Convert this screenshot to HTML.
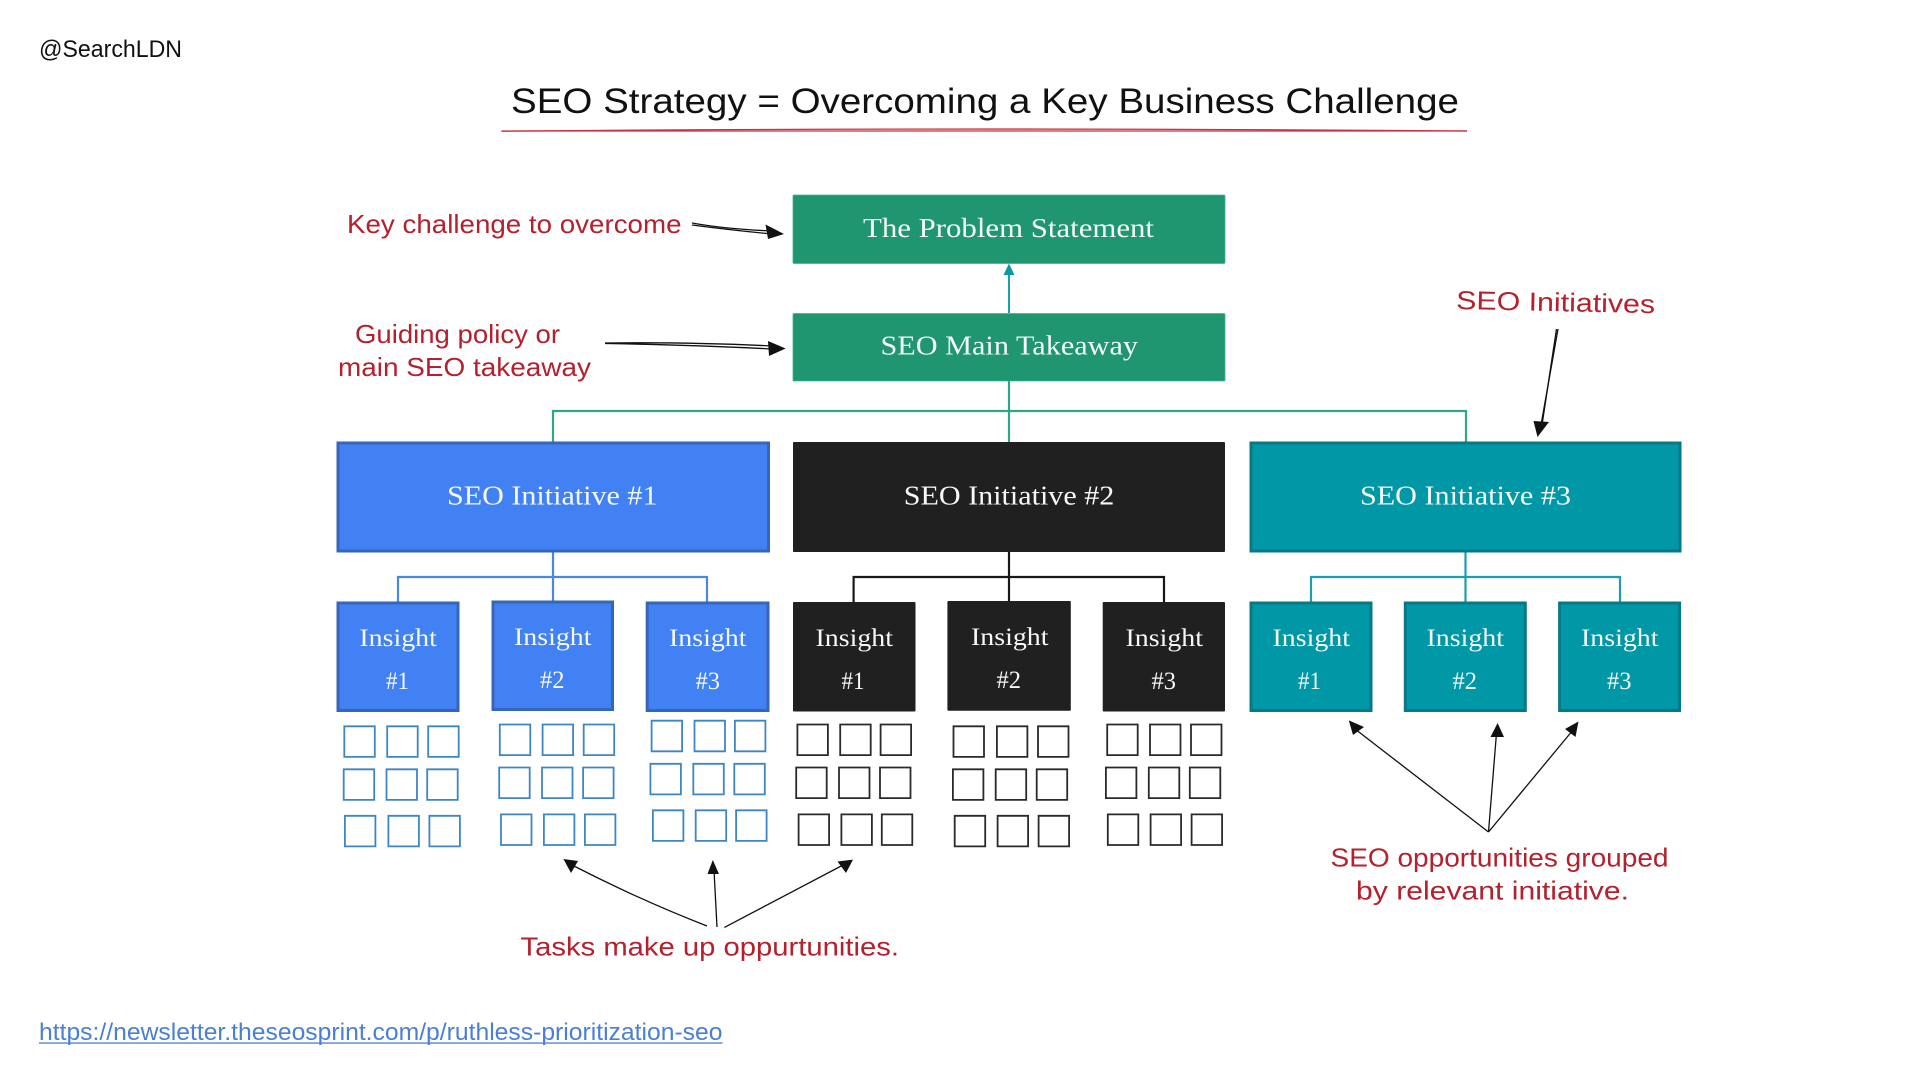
<!DOCTYPE html>
<html lang="en">
<head>
<meta charset="utf-8">
<title>SEO Strategy</title>
<style>
html,body{margin:0;padding:0;background:#fff;width:1920px;height:1080px;overflow:hidden}
svg{display:block}
.s{font-family:"Liberation Serif",serif;fill:#f4f8f6;font-size:27px}
.i{font-family:"Liberation Serif",serif;fill:#f4f8f6;font-size:25px}
.h{font-family:"Liberation Sans",sans-serif;fill:#b5202c;font-size:26px}
.n{font-family:"Liberation Sans",sans-serif;font-size:24px}
</style>
</head>
<body>
<svg width="1920" height="1080" viewBox="0 0 1920 1080" xmlns="http://www.w3.org/2000/svg">
<rect width="1920" height="1080" fill="#fff"/>

<text class="n" x="39" y="57" fill="#111" textLength="143" lengthAdjust="spacingAndGlyphs">@SearchLDN</text>
<text x="511" y="113" font-family="'Liberation Sans',sans-serif" font-size="35" fill="#111" textLength="948" lengthAdjust="spacingAndGlyphs">SEO Strategy = Overcoming a Key Business Challenge</text>
<path d="M501.5 131.2Q980 127 1467 131" fill="none" stroke="#c8323c" stroke-width="1.3"/>
<path d="M501.5 131Q980 130.5 1467 131" fill="none" stroke="#c8323c" stroke-width="1.3"/>

<!-- connectors -->
<path d="M553 442V411H1466V442M1009 381V442" fill="none" stroke="#2fa58a" stroke-width="2.2"/>
<path d="M1009 313V272" fill="none" stroke="#1b9fb0" stroke-width="2"/>
<path d="M1009 263.5L1003.5 275H1014.5Z" fill="#0f97a8"/>
<path d="M398 602V577H707V602M553 552V602" fill="none" stroke="#4a88e0" stroke-width="2.2"/>
<path d="M853.6 602V577H1164V602M1009 552V602" fill="none" stroke="#181818" stroke-width="2.2"/>
<path d="M1311 602V577H1620V602M1465.5 552V602" fill="none" stroke="#1b9fb0" stroke-width="2.2"/>

<!-- top boxes -->
<rect x="793" y="195" width="432" height="68.5" rx="1" fill="#1f966f" stroke="#3cb49a" stroke-width=".8"/>
<rect x="793" y="313.5" width="432" height="67.5" rx="1" fill="#1f966f" stroke="#3cb49a" stroke-width=".8"/>
<text class="s" x="863" y="237" textLength="291" lengthAdjust="spacingAndGlyphs">The Problem Statement</text>
<text class="s" x="880.5" y="354.5" textLength="257.5" lengthAdjust="spacingAndGlyphs">SEO Main Takeaway</text>

<!-- initiatives -->
<rect x="338" y="443" width="430.5" height="108" fill="#4281f3" stroke="#3666b8" stroke-width="3"/>
<rect x="793" y="442" width="432" height="110" rx="1" fill="#202020"/>
<rect x="1251" y="443" width="429" height="108" fill="#0097a7" stroke="#06788a" stroke-width="3"/>
<text class="s" x="447" y="504.5" textLength="210.5" lengthAdjust="spacingAndGlyphs">SEO Initiative #1</text>
<text class="s" x="903.8" y="504.5" textLength="210.5" lengthAdjust="spacingAndGlyphs">SEO Initiative #2</text>
<text class="s" x="1360" y="504.5" textLength="211" lengthAdjust="spacingAndGlyphs">SEO Initiative #3</text>

<!-- insights -->
<g fill="#4281f3" stroke="#3666b8" stroke-width="3">
<rect x="338" y="603" width="120" height="107.5"/>
<rect x="493" y="602" width="119.5" height="107.5"/>
<rect x="647.2" y="603" width="120.8" height="107.5"/>
</g>
<g fill="#202020">
<rect x="793" y="602" width="122.5" height="109.5" rx="1"/>
<rect x="947.4" y="601" width="123.4" height="109.8" rx="1"/>
<rect x="1102.7" y="602" width="122.3" height="109.5" rx="1"/>
</g>
<g fill="#0097a7" stroke="#06788a" stroke-width="3">
<rect x="1251" y="603" width="120" height="107.5"/>
<rect x="1405.3" y="603" width="120" height="107.5"/>
<rect x="1559.6" y="603" width="120" height="107.5"/>
</g>

<g class="i">
<text class="i" x="359.4" y="646" textLength="77.5" lengthAdjust="spacingAndGlyphs">Insight</text>
<text class="i" x="386" y="689" textLength="23" lengthAdjust="spacingAndGlyphs">#1</text>
<text class="i" x="514" y="644.8" textLength="77.5" lengthAdjust="spacingAndGlyphs">Insight</text>
<text class="i" x="540" y="687.8" textLength="24.5" lengthAdjust="spacingAndGlyphs">#2</text>
<text class="i" x="669" y="646" textLength="77.5" lengthAdjust="spacingAndGlyphs">Insight</text>
<text class="i" x="695.5" y="689" textLength="24.5" lengthAdjust="spacingAndGlyphs">#3</text>
<text class="i" x="815.5" y="646" textLength="77.5" lengthAdjust="spacingAndGlyphs">Insight</text>
<text class="i" x="841.5" y="689" textLength="23" lengthAdjust="spacingAndGlyphs">#1</text>
<text class="i" x="971" y="644.8" textLength="77.5" lengthAdjust="spacingAndGlyphs">Insight</text>
<text class="i" x="996.5" y="687.8" textLength="24.5" lengthAdjust="spacingAndGlyphs">#2</text>
<text class="i" x="1125.5" y="646" textLength="77.5" lengthAdjust="spacingAndGlyphs">Insight</text>
<text class="i" x="1151.5" y="689" textLength="24.5" lengthAdjust="spacingAndGlyphs">#3</text>
<text class="i" x="1272.5" y="646" textLength="77.5" lengthAdjust="spacingAndGlyphs">Insight</text>
<text class="i" x="1298" y="689" textLength="23" lengthAdjust="spacingAndGlyphs">#1</text>
<text class="i" x="1426.5" y="646" textLength="77.5" lengthAdjust="spacingAndGlyphs">Insight</text>
<text class="i" x="1452.5" y="689" textLength="24.5" lengthAdjust="spacingAndGlyphs">#2</text>
<text class="i" x="1581" y="646" textLength="77.5" lengthAdjust="spacingAndGlyphs">Insight</text>
<text class="i" x="1607" y="689" textLength="24.5" lengthAdjust="spacingAndGlyphs">#3</text>
</g>

<!-- task squares -->
<path fill="none" stroke="#3d85c6" stroke-width="1.8" d="
M344.3 726.3h30.5v30.6h-30.5zM387.2 726.3h30.5v30.6h-30.5zM428.2 726.3h30.5v30.6h-30.5z
M343.7 769.3h30.5v30.6h-30.5zM386.5 769.3h30.5v30.6h-30.5zM427.2 769.3h30.5v30.6h-30.5z
M344.9 815.8h30.5v30.6h-30.5zM388.4 815.8h30.5v30.6h-30.5zM429.4 815.8h30.5v30.6h-30.5z
M499.8 724.5h30.5v30.6h-30.5zM542.6 724.5h30.5v30.6h-30.5zM583.7 724.5h30.5v30.6h-30.5z
M499.2 767.5h30.5v30.6h-30.5zM542 767.5h30.5v30.6h-30.5zM583.1 767.5h30.5v30.6h-30.5z
M501 814.4h30.5v30.6h-30.5zM543.9 814.4h30.5v30.6h-30.5zM584.9 814.4h30.5v30.6h-30.5z
M651.6 720.7h30.5v30.6h-30.5zM694.5 720.7h30.5v30.6h-30.5zM734.9 720.7h30.5v30.6h-30.5z
M650.4 763.8h30.5v30.6h-30.5zM693.3 763.8h30.5v30.6h-30.5zM734.3 763.8h30.5v30.6h-30.5z
M652.9 810.3h30.5v30.6h-30.5zM695.7 810.3h30.5v30.6h-30.5zM736.1 810.3h30.5v30.6h-30.5z"/>
<path fill="none" stroke="#2a2a2a" stroke-width="1.8" d="
M797.4 724.5h30.5v30.6h-30.5zM840.2 724.5h30.5v30.6h-30.5zM880.6 724.5h30.5v30.6h-30.5z
M796.2 767.5h30.5v30.6h-30.5zM839 767.5h30.5v30.6h-30.5zM880 767.5h30.5v30.6h-30.5z
M798.6 814.4h30.5v30.6h-30.5zM841.4 814.4h30.5v30.6h-30.5zM881.8 814.4h30.5v30.6h-30.5z
M953.5 726.3h30.5v30.6h-30.5zM996.9 726.3h30.5v30.6h-30.5zM1038 726.3h30.5v30.6h-30.5z
M952.9 769.3h30.5v30.6h-30.5zM995.7 769.3h30.5v30.6h-30.5zM1036.7 769.3h30.5v30.6h-30.5z
M954.7 815.8h30.5v30.6h-30.5zM997.6 815.8h30.5v30.6h-30.5zM1038.6 815.8h30.5v30.6h-30.5z
M1107.2 724.5h30.5v30.6h-30.5zM1150 724.5h30.5v30.6h-30.5zM1191 724.5h30.5v30.6h-30.5z
M1105.9 767.5h30.5v30.6h-30.5zM1148.8 767.5h30.5v30.6h-30.5zM1189.8 767.5h30.5v30.6h-30.5z
M1107.8 814.4h30.5v30.6h-30.5zM1150.6 814.4h30.5v30.6h-30.5zM1191.6 814.4h30.5v30.6h-30.5z"/>

<!-- sketch arrows -->
<g fill="none" stroke="#111" stroke-width="1.3">
<path d="M692 223Q725 229 772 231"/>
<path d="M692 225Q730 230 772 234"/>
<path d="M605 343Q695 342 772 346"/>
<path d="M605 343.5Q695 345 772 349"/>
<path d="M1558 329L1541 425"/>
<path d="M1556.5 329L1542 425"/>
<path d="M707 926Q640 900 572 865"/>
<path d="M717 927L714 870"/>
<path d="M724.4 927.4L845 864"/>
<path d="M1488.5 832L1355 729"/>
<path d="M1488.5 832L1496.5 733"/>
<path d="M1488.5 832L1573 730"/>
</g>
<g fill="#111">
<path d="M784 234L765.5 224.5L768 239Z"/>
<path d="M785.6 348.5L768 341L769 356Z"/>
<path d="M1537.5 437L1533.5 421L1549 422Z"/>
<path d="M563.4 859L578 861L571 873Z"/>
<path d="M712.8 860L707.5 874H719Z"/>
<path d="M853 859.6L837.5 861.5L846 873Z"/>
<path d="M1348.8 720.4L1353 735L1364 727Z"/>
<path d="M1497.6 723L1490.5 737H1504Z"/>
<path d="M1578.5 721.5L1565 729L1575.5 737Z"/>
</g>

<!-- handwritten labels -->
<text class="h" x="347" y="233" textLength="334.5" lengthAdjust="spacingAndGlyphs">Key challenge to overcome</text>
<text class="h" x="355" y="343" textLength="205" lengthAdjust="spacingAndGlyphs">Guiding policy or</text>
<text class="h" x="338" y="376" textLength="253" lengthAdjust="spacingAndGlyphs">main SEO takeaway</text>
<text class="h" x="1456" y="309" textLength="199" lengthAdjust="spacingAndGlyphs" transform="rotate(1.2 1456 309)">SEO Initiatives</text>
<text class="h" x="520.5" y="955.5" textLength="378.5" lengthAdjust="spacingAndGlyphs">Tasks make up oppurtunities.</text>
<text class="h" x="1330.5" y="866.5" textLength="338" lengthAdjust="spacingAndGlyphs">SEO opportunities grouped</text>
<text class="h" x="1356" y="899.5" textLength="273" lengthAdjust="spacingAndGlyphs">by relevant initiative.</text>

<!-- footer link -->
<text class="n" x="39" y="1040" fill="#4a7fd6" textLength="683.5" lengthAdjust="spacingAndGlyphs">https://newsletter.theseosprint.com/p/ruthless-prioritization-seo</text>
<rect x="39" y="1042.4" width="683.5" height="1.3" fill="#4a7fd6"/>
</svg>
</body>
</html>
